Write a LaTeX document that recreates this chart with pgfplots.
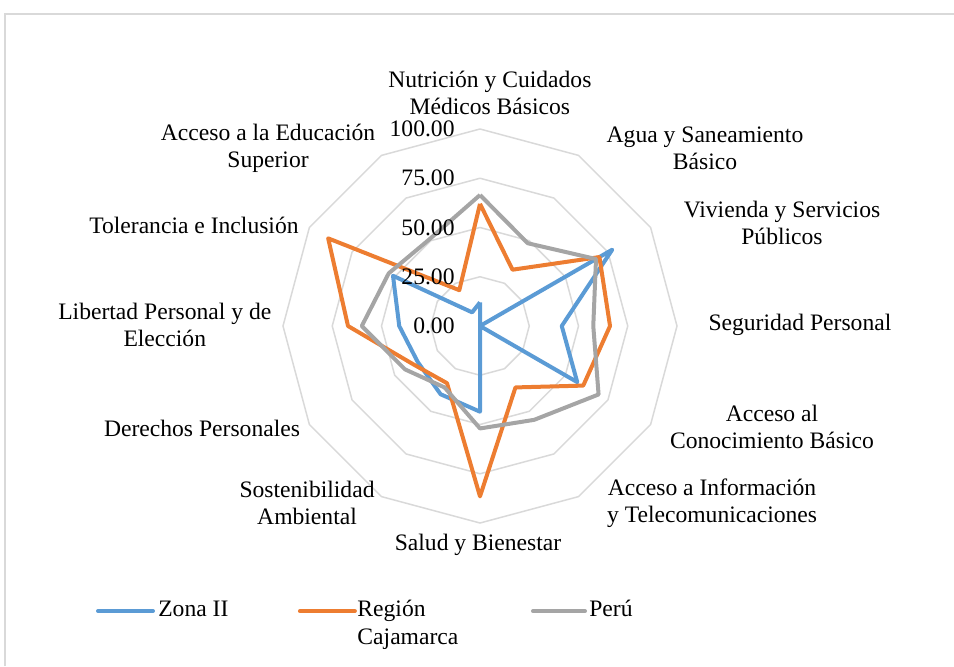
\documentclass[border=0pt]{standalone}
\usepackage{pgfplots}
\pgfplotsset{compat=1.18}
\usepackage{pgfplotstable}
\usepackage{fontspec}
\setmainfont{Liberation Serif}

\definecolor{zonac}{RGB}{91,155,213}
\definecolor{regc}{RGB}{237,125,49}
\definecolor{peruc}{RGB}{165,165,165}
\definecolor{gridc}{RGB}{217,217,217}

% angle (deg), values per series; category order clockwise from top
\pgfplotstableread{
ang   zona  region peru
90    12    62     66.5
60    0     33     48.5
30    77.5  70     68
0     41.5  66     57.5
-30   57    60.5   69.5
-60   0     36     55
-90   43.5  86.5   52
-120  40    33.5   36
-150  36.5  39     44
-180  41    67     60
-210  51    89     53.5
-240  8     21     51
-270  12    62     66.5
}\radardata

\begin{document}
\begin{tikzpicture}[font=\fontsize{11.8}{13.5}\selectfont]
\begin{axis}[
    hide axis, scale only axis, clip=false,
    width=477pt, height=333pt,
    xmin=-243.65, xmax=240.61, ymin=-172.59, ymax=165.48,
]
% chart border
\draw[gridc, line width=0.75pt] (axis cs:-241.1,-172.59) -- (axis cs:-241.1,158.4) -- (axis cs:240.61,158.4);

% grid rings
\addplot[gridc, line width=0.75pt, data cs=polar] coordinates {(90,25) (60,25) (30,25) (0,25) (-30,25) (-60,25) (-90,25) (-120,25) (-150,25) (-180,25) (-210,25) (-240,25) (-270,25)};
\addplot[gridc, line width=0.75pt, data cs=polar] coordinates {(90,50) (60,50) (30,50) (0,50) (-30,50) (-60,50) (-90,50) (-120,50) (-150,50) (-180,50) (-210,50) (-240,50) (-270,50)};
\addplot[gridc, line width=0.75pt, data cs=polar] coordinates {(90,75) (60,75) (30,75) (0,75) (-30,75) (-60,75) (-90,75) (-120,75) (-150,75) (-180,75) (-210,75) (-240,75) (-270,75)};
\addplot[gridc, line width=0.75pt, data cs=polar] coordinates {(90,100) (60,100) (30,100) (0,100) (-30,100) (-60,100) (-90,100) (-120,100) (-150,100) (-180,100) (-210,100) (-240,100) (-270,100)};

% series
\addplot[zonac, line width=2pt, line join=round, data cs=polar] table[x=ang, y=zona] {\radardata};
\addplot[regc, line width=2pt, line join=round, data cs=polar] table[x=ang, y=region] {\radardata};
\addplot[peruc, line width=2pt, line join=round, data cs=polar] table[x=ang, y=peru] {\radardata};

% radial tick labels
\node[anchor=east, inner sep=0] at (axis cs:-12.7,0) {0.00};
\node[anchor=east, inner sep=0] at (axis cs:-12.7,25) {25.00};
\node[anchor=east, inner sep=0] at (axis cs:-12.7,50) {50.00};
\node[anchor=east, inner sep=0] at (axis cs:-12.7,75) {75.00};
\node[anchor=east, inner sep=0] at (axis cs:-12.7,100) {100.00};

% category labels
\node[align=center, inner sep=0] at (axis cs:5,118.3) {Nutrición y Cuidados\\Médicos Básicos};
\node[align=center, inner sep=0] at (axis cs:114.2,90.4) {Agua y Saneamiento\\Básico};
\node[align=center, inner sep=0] at (axis cs:153.3,52.3) {Vivienda y Servicios\\Públicos};
\node[align=center, inner sep=0] at (axis cs:162.4,0.5) {Seguridad Personal};
\node[align=center, inner sep=0] at (axis cs:148.2,-51.3) {Acceso al\\Conocimiento Básico};
\node[align=center, inner sep=0] at (axis cs:117.8,-89.8) {Acceso a Información\\y Telecomunicaciones};
\node[align=center, inner sep=0] at (axis cs:-1,-111.2) {Salud y Bienestar};
\node[align=center, inner sep=0] at (axis cs:-87.8,-89.8) {Sostenibilidad\\Ambiental};
\node[align=center, inner sep=0] at (axis cs:-141.1,-51.8) {Derechos Personales};
\node[align=center, inner sep=0] at (axis cs:-160,0.3) {Libertad Personal y de\\Elección};
\node[align=center, inner sep=0] at (axis cs:-145.2,51.3) {Tolerancia e Inclusión};
\node[align=center, inner sep=0] at (axis cs:-107.6,90.1) {Acceso a la Educación\\Superior};

% legend
\draw[zonac, line width=2pt, line cap=round] (axis cs:-193.9,-144.7) -- (axis cs:-166.0,-144.7);
\node[anchor=base west, inner sep=0] at (axis cs:-163.5,-147.7) {Zona II};
\draw[regc, line width=2pt, line cap=round] (axis cs:-91.4,-144.7) -- (axis cs:-63.5,-144.7);
\node[anchor=base west, inner sep=0] at (axis cs:-62.4,-147.7) {Región};
\node[anchor=base west, inner sep=0] at (axis cs:-62.4,-161.9) {Cajamarca};
\draw[peruc, line width=2pt, line cap=round] (axis cs:26.9,-144.7) -- (axis cs:53.3,-144.7);
\node[anchor=base west, inner sep=0] at (axis cs:55.3,-147.7) {Perú};
\end{axis}
\pgfresetboundingbox
\path[use as bounding box] (current axis.south west) rectangle (current axis.north east);
\end{tikzpicture}
\end{document}
